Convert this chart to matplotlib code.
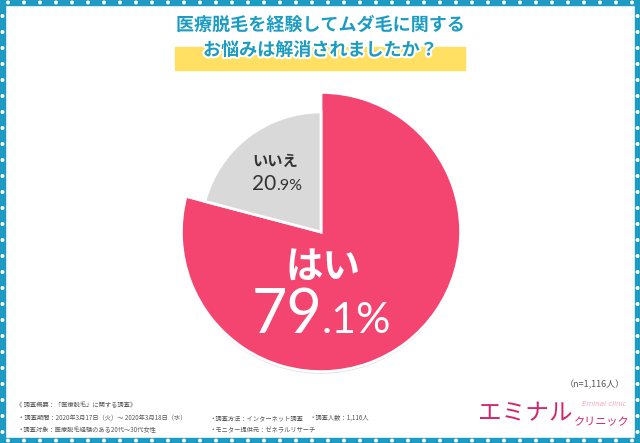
import matplotlib
matplotlib.use("Agg")
import matplotlib.pyplot as plt
import matplotlib.patheffects as pe
from matplotlib.patches import Rectangle, Circle

# ---- data ----
labels = ["はい", "いいえ"]
values = [79.1, 20.9]
value_int = ["79", "20"]
value_dec = [".1%", ".9%"]
slice_colors = ["#F44470", "#D9D9D9"]
title_lines = ["医療脱毛を経験してムダ毛に関する", "お悩みは解消されましたか？"]
footer_head = "《 調査概要：「医療脱毛」に関する調査》"
footer_rows = [
    ["・調査期間：2020年3月17日（火）～ 2020年3月18日（水）", "・調査方法：インターネット調査", "・調査人数：1,116人"],
    ["・調査対象：医療脱毛経験のある20代～30代女性", "・モニター提供元：ゼネラルリサーチ"],
]
n_text = "（n=1,116人）"

W, H = 640, 443
JP = ["Noto Sans CJK JP", "DejaVu Sans"]
NUM = ["Lato", "DejaVu Sans"]
TEAL = "#1C9CC2"

fig = plt.figure(figsize=(W / 100, H / 100), dpi=100)
bg = fig.add_axes([0, 0, 1, 1])
bg.set_xlim(0, W)
bg.set_ylim(H, 0)
bg.axis("off")

# frame with dots
bw = 5
for (x, y, w, h) in [(0, 0, W, bw), (0, H - bw, W, bw), (0, 0, bw, H), (W - bw, 0, bw, H)]:
    bg.add_patch(Rectangle((x, y), w, h, color=TEAL, zorder=1))
for xx in range(8, W, 16):
    bg.add_patch(Circle((xx, 2.5), 1.3, color="white", zorder=2))
    bg.add_patch(Circle((xx, H - 2.5), 1.3, color="white", zorder=2))
for yy in range(16, H - 8, 16):
    bg.add_patch(Circle((2.5, yy), 1.3, color="white", zorder=2))
    bg.add_patch(Circle((W - 2.5, yy), 1.3, color="white", zorder=2))

# title
bg.add_patch(Rectangle((175, 47), 290, 23, color="#FFE063", zorder=1))
stroke = [pe.withStroke(linewidth=3, foreground="white")]
bg.text(320, 25, title_lines[0], ha="center", va="center", fontsize=13, weight="bold",
        color=TEAL, family=JP, path_effects=stroke, zorder=3)
bg.text(320, 50, title_lines[1], ha="center", va="center", fontsize=13, weight="bold",
        color=TEAL, family=JP, path_effects=stroke, zorder=3)

# pie
cx, cy, r = 321, 232, 141
pax = fig.add_axes([(cx - r) / W, (H - cy - r) / H, 2 * r / W, 2 * r / H])
wedges, _ = pax.pie(values, colors=slice_colors, startangle=90, counterclock=False,
                    wedgeprops=dict(edgecolor="white", linewidth=2))
wedges[1].set_radius(0.86)
wedges[0].set_path_effects([pe.SimplePatchShadow(offset=(0, -1.5), shadow_rgbFace="#999999", alpha=0.35),
                            pe.Normal()])
pax.set_xlim(-1.01, 1.01)
pax.set_ylim(-1.01, 1.01)
pax.set_aspect("equal")
pax.axis("off")
bg.set_zorder(pax.get_zorder() + 1)
bg.patch.set_visible(False)

# labels on the pie
bg.text(323, 266, labels[0], ha="center", va="center", fontsize=27, weight="bold",
        color="white", family=JP, zorder=5)
bg.text(323, 333, value_int[0], ha="right", va="baseline", fontsize=44,
        color="white", family=NUM, zorder=5)
bg.text(322, 333, value_dec[0], ha="left", va="baseline", fontsize=31,
        color="white", family=NUM, zorder=5)
bg.text(275, 161, labels[1], ha="center", va="center", fontsize=11, weight="bold",
        color="#333333", family=JP, zorder=5)
bg.text(276, 190, value_int[1], ha="right", va="baseline", fontsize=15,
        color="#333333", family=NUM, zorder=5)
bg.text(276, 190, value_dec[1], ha="left", va="baseline", fontsize=11.5,
        color="#333333", family=NUM, zorder=5)

# n
bg.text(625, 385, n_text, ha="right", va="center", fontsize=6.5, color="#555555", family=JP)

# footer
fc = "#555555"
fs = 4.5
bg.text(16, 405, footer_head, ha="left", va="center", fontsize=fs, color=fc, family=JP)
col_x = [18, 210, 309]
for i, row in enumerate(footer_rows):
    for j, t in enumerate(row):
        bg.text(col_x[j], 418 + 12 * i, t, ha="left", va="center", fontsize=fs, color=fc, family=JP)

# logo
bg.text(478, 414, "エミナル", ha="left", va="center", fontsize=17, color="#D3246C", family=JP)
bg.text(574, 422, "クリニック", ha="left", va="center", fontsize=8, color="#D3246C", family=JP)
bg.text(604, 404, "Eminal clinic", ha="center", va="center", fontsize=5, color="#F2A7C3",
        style="italic", family=["DejaVu Sans"])

fig.savefig("out.png", dpi=100)
